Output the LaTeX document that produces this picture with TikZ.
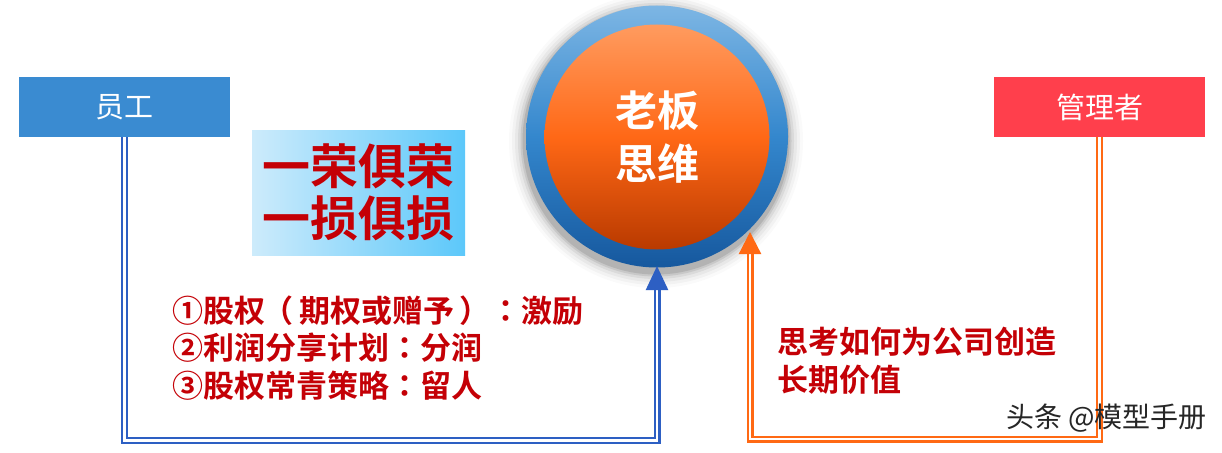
\documentclass[tikz,border=0pt]{standalone}
\usepackage{fontspec}
\usetikzlibrary{arrows.meta,shadings}
\newfontfamily\cjk{Noto Sans CJK SC}
\newfontfamily\cjkb{Noto Sans CJK SC Bold}
\newfontfamily\cjkbtc{Noto Sans CJK TC Bold}
\newcommand\pct[1]{{\cjkbtc #1}}
\definecolor{empblue}{RGB}{58,139,209}
\definecolor{mgrred}{RGB}{255,63,76}
\definecolor{txtred}{RGB}{196,0,6}
\definecolor{lineblue}{RGB}{45,95,195}
\definecolor{lineorange}{RGB}{255,105,20}
\definecolor{ringtop}{RGB}{125,182,228}
\definecolor{ringmid}{RGB}{52,135,205}
\definecolor{ringbot}{RGB}{22,88,158}
\definecolor{orgtop}{RGB}{255,155,95}
\definecolor{orgmid}{RGB}{255,104,22}
\definecolor{orgbot}{RGB}{185,58,0}
\definecolor{rongl}{RGB}{205,235,251}
\definecolor{rongr}{RGB}{92,200,250}
\tikzset{
  rolebox/.style={rectangle, minimum width=211pt, minimum height=60pt, inner sep=0pt, text=white, font=\cjk\fontsize{29}{32}\selectfont},
  redtext/.style={text=txtred, font=\cjkb\fontsize{31}{37.5}\selectfont, align=left, inner sep=0pt},
  dblblue/.style={draw=lineblue, line width=2.3pt, double=white, double distance=2.4pt, -{Triangle[length=24pt,width=22pt]}},
  dblorange/.style={draw=lineorange, line width=2.3pt, double=white, double distance=2.4pt, -{Triangle[length=22pt,width=22pt]}}
}
\begin{document}
\begin{tikzpicture}[x=1pt,y=-1pt]
\useasboundingbox (0,0) rectangle (1222,452);
\fill[white] (0,0) rectangle (1222,452);
% role boxes
\node[rolebox, fill=empblue] (emp) at (124.5,107) {员工};
\node[rolebox, fill=mgrred] (mgr) at (1099.5,107) {管理者};
% shadow of circle
\foreach \r/\o in {147/0.02,144/0.03,141/0.04,138/0.06,135.5/0.08,133.5/0.10}
  \fill[black,opacity=\o] (656,141) circle (\r);
% ring and core
\node[circle, minimum size=262pt, inner sep=0pt, top color=ringtop, bottom color=ringbot, middle color=ringmid] (ring) at (657,136.5) {};
\node[circle, minimum size=225pt, inner sep=0pt, top color=orgtop, bottom color=orgbot, middle color=orgmid, text=white, align=center, font=\cjkb\fontsize{42}{53}\selectfont] (boss) at (657,137) {老板\\思维};
% slogan box
\node[rectangle, minimum width=213pt, minimum height=125pt, inner sep=0pt, left color=rongl, right color=rongr, text=txtred, align=center, font=\cjkb\fontsize{48}{52}\selectfont] (rong) at (358.5,192.5) {一荣俱荣\\一损俱损};
% connectors
\coordinate (bcorner) at (657,440.5);
\coordinate (btip) at (657,266);
\coordinate (ocorner) at (750,439);
\coordinate (otip) at (750,232);
\draw[dblblue] (emp.south) |- (bcorner) -- (btip);
\draw[dblorange] (mgr.south) |- (ocorner) -- (otip);
% texts
\node[redtext, anchor=west] (plans) at (172,348) {①股权\hspace{-3pt}\pct{（}\hspace{6pt}期权或赠予\hspace{5pt}\pct{）：}激励\\②利润分享计划\pct{：}分润\\③股权常青策略\pct{：}留人};
\node[redtext, anchor=west] (value) at (777,361) {思考如何为公司创造\\长期价值};
\node[anchor=east, inner sep=0pt, text=black!85, font=\cjk\fontsize{28}{30}\selectfont] (mark) at (1207,418) {头条\hspace{6pt}@模型手册};
\end{tikzpicture}
\end{document}
